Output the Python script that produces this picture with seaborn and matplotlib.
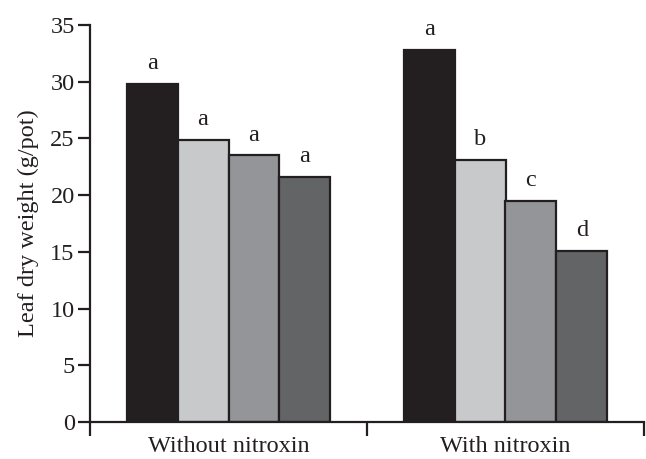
import matplotlib
matplotlib.use("Agg")
import matplotlib.pyplot as plt
import seaborn as sns
import pandas as pd

# Data
groups = ["Without nitroxin", "With nitroxin"]
levels = ["L1", "L2", "L3", "L4"]
without_vals = [29.8, 24.9, 23.5, 21.6]
with_vals = [32.8, 23.1, 19.5, 15.1]
without_letters = ["a", "a", "a", "a"]
with_letters = ["a", "b", "c", "d"]
colors = ["#231f20", "#c8c9ca", "#939598", "#636466"]
y_ticks = [0, 5, 10, 15, 20, 25, 30, 35]

df = pd.DataFrame({
    "group": [groups[0]] * 4 + [groups[1]] * 4,
    "level": levels + levels,
    "weight": without_vals + with_vals,
})

sns.set_style("ticks")
plt.rcParams["font.family"] = ["Liberation Serif", "DejaVu Serif"]
plt.rcParams["axes.linewidth"] = 1.6

FS = 17.5
fig = plt.figure(figsize=(6.46, 4.59), dpi=100)
ax = fig.add_axes([90 / 646, 37 / 459, 554 / 646, 397 / 459])

sns.barplot(data=df, x="group", y="weight", hue="level", order=groups,
            hue_order=levels, palette=colors, width=0.735, gap=0,
            edgecolor="#231f20", linewidth=1.6, saturation=1,
            legend=False, ax=ax)

# Significance letters above each bar
for i, cont in enumerate(ax.containers):
    ax.bar_label(cont, labels=[without_letters[i], with_letters[i]],
                 padding=7, fontsize=FS, color="#231f20")

ax.set_xlim(-0.5, 1.5)
ax.set_ylim(0, 35)
ax.set_yticks(y_ticks)
ax.tick_params(axis="y", labelsize=FS, length=9, width=1.6,
               colors="#231f20", pad=2)

# Boundary ticks between groups, category names centered below
ax.set_xticks([-0.5, 0.5, 1.5])
ax.set_xticklabels([])
ax.tick_params(axis="x", which="major", length=10, width=1.6,
               direction="out", colors="#231f20")
ax.set_xticks([0, 1], minor=True)
ax.set_xticklabels(groups, minor=True, fontsize=FS, color="#231f20")
ax.tick_params(axis="x", which="minor", length=0, pad=10)

ax.set_xlabel("")
ax.set_ylabel("Leaf dry weight (g/pot)", fontsize=FS, color="#231f20",
              labelpad=8)
for s in ["top", "right"]:
    ax.spines[s].set_visible(False)
for s in ["left", "bottom"]:
    ax.spines[s].set_color("#231f20")

fig.savefig("out.png", dpi=100)
